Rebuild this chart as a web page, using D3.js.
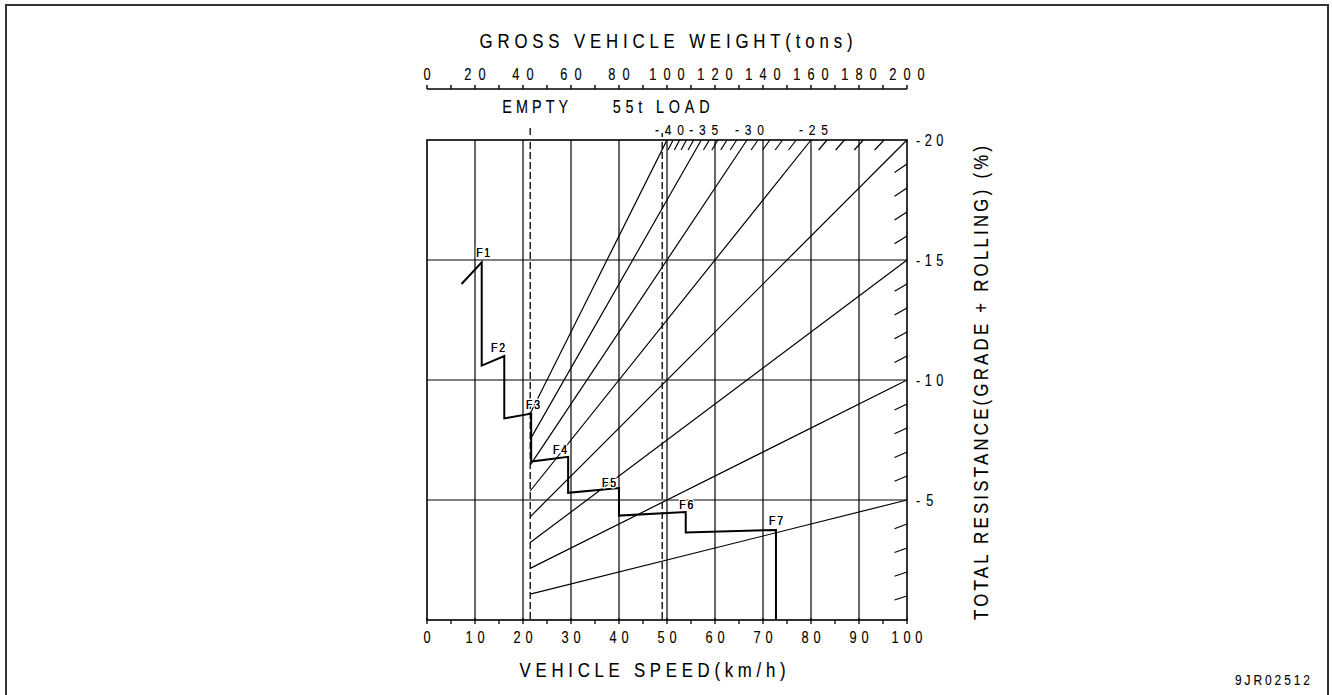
<!DOCTYPE html>
<html>
<head>
<meta charset="utf-8">
<script src="https://cdn.jsdelivr.net/npm/d3@7"></script>
<style>
  html, body { margin: 0; padding: 0; background: #fff; }
  svg { display: block; }
  text { font-family: "Liberation Sans", Arial, sans-serif; fill: #000; stroke: #000; stroke-width: 0.12; }
</style>
</head>
<body>
<svg id="chart" width="1332" height="695"></svg>
<script>
// ---- chart values ----
const speedTicks = [0, 10, 20, 30, 40, 50, 60, 70, 80, 90, 100];          // km/h
const speedMinorTicks = [5, 15, 25, 35, 45, 55, 65, 75, 85, 95];
const weightTicks = [0, 20, 40, 60, 80, 100, 120, 140, 160, 180, 200];    // tons
const weightMinorTicks = [10, 30, 50, 70, 90, 110, 130, 150, 170, 190];
const resistanceTicks = [5, 10, 15, 20];                                  // % (shown negative)
const gradeLines = [5, 10, 15, 20, 25, 30, 35, 40];                       // full resistance lines
const topLineLabels = [40, 35, 30, 25];
const topHatch = [21, 22, 23, 24, 26, 27, 28, 29, 31, 32, 33, 34, 36, 37, 38, 39];
const rightHatch = [1, 2, 3, 4, 6, 7, 8, 9, 11, 12, 13, 14, 16, 17, 18, 19];
const emptyWeight = 43;   // t
const payload = 55;       // t
const loadedWeight = emptyWeight + payload;

// retarder performance by gear: speed (km/h) vs total resistance (%)
const brakeSpeed = [7.2, 11.4, 11.4, 16.1, 16.1, 21.7, 21.7, 29.4, 29.4, 40.0, 40.0, 53.9, 53.9, 72.7, 72.7];
const brakeValue = [14.0, 14.9, 10.6, 11.0, 8.4, 8.6, 6.6, 6.8, 5.3, 5.5, 4.35, 4.5, 3.65, 3.75, 0];
const gearNames = ["F1", "F2", "F3", "F4", "F5", "F6", "F7"];
const gearLabelSpeed = [11.7, 14.8, 22.1, 27.7, 37.9, 54.0, 72.7];
const gearLabelValue = [15.12, 11.17, 8.79, 6.92, 5.54, 4.63, 3.96];

// ---- layout ----
const plot = { left: 427, top: 140, size: 480 };
const svg = d3.select("#chart");

const xSpeed = d3.scaleLinear().domain([0, 100]).range([plot.left, plot.left + plot.size]);
const xWeight = d3.scaleLinear().domain([0, 200]).range([plot.left, plot.left + plot.size]);
const yRes = d3.scaleLinear().domain([0, 20]).range([plot.top + plot.size, plot.top]);
const bottom = yRes(0), right = xSpeed(100);

// narrow, evenly spaced lettering: glyphs squeezed horizontally, spread to a given width
const SX = 0.8;
function letter(parent, x, y, str, size, width, anchor, rotate) {
  const g = parent.append("g")
    .attr("transform", `translate(${x},${y})` + (rotate ? ` rotate(${rotate})` : "") + ` scale(${SX},1)`);
  const t = g.append("text").attr("x", 0).attr("y", 0)
    .attr("font-size", size).attr("text-anchor", anchor || "middle").text(str);
  if (width && str.length > 1) t.attr("textLength", width / SX).attr("lengthAdjust", "spacing");
  return t;
}
// width of a label whose characters sit on a fixed pitch
const pitched = (str, pitch, glyph) => pitch * (str.length - 1) + glyph;

// outer frame of the sheet
svg.append("rect").attr("x", 6).attr("y", 5).attr("width", 1322).attr("height", 705)
  .attr("fill", "none").attr("stroke", "#333").attr("stroke-width", 2);

// grid
const grid = svg.append("g").attr("stroke", "#000").attr("stroke-width", 1.2);
grid.selectAll("line.v").data(speedTicks.slice(1, -1)).join("line")
  .attr("x1", d => xSpeed(d)).attr("x2", d => xSpeed(d))
  .attr("y1", yRes(20)).attr("y2", yRes(0));
grid.selectAll("line.h").data(resistanceTicks.slice(0, -1)).join("line")
  .attr("x1", xSpeed(0)).attr("x2", xSpeed(100))
  .attr("y1", d => yRes(d)).attr("y2", d => yRes(d));

// resistance lines: value = R * W / 200, drawn from the empty weight
const lines = svg.append("g").attr("stroke", "#000").attr("stroke-width", 1.2);
lines.selectAll("line").data(gradeLines).join("line")
  .attr("x1", xWeight(emptyWeight))
  .attr("y1", r => yRes(r * emptyWeight / 200))
  .attr("x2", r => xWeight(Math.min(200, 4000 / r)))
  .attr("y2", r => yRes(Math.min(20, r)));

// short hatch marks where intermediate lines leave the chart (top edge)
const hatchDrop = 10; // px
lines.append("g").selectAll("line").data(topHatch).join("line")
  .attr("x1", r => xWeight(4000 / r)).attr("y1", yRes(20))
  .attr("x2", r => xWeight(4000 / r) - hatchDrop * 20 / r)
  .attr("y2", yRes(20) + hatchDrop);
// right edge
const hatchRun = 12.5; // px
lines.append("g").selectAll("line").data(rightHatch).join("line")
  .attr("x1", right).attr("y1", r => yRes(r))
  .attr("x2", right - hatchRun)
  .attr("y2", r => yRes(r) + hatchRun * (0.3 + 0.02 * r));

// empty / loaded weight markers
const dashes = svg.append("g").attr("stroke", "#000").attr("stroke-width", 1.3);
dashes.append("line")
  .attr("x1", xWeight(emptyWeight)).attr("x2", xWeight(emptyWeight))
  .attr("y1", plot.top - 12).attr("y2", plot.top - 5);
dashes.append("line")
  .attr("x1", xWeight(loadedWeight)).attr("x2", xWeight(loadedWeight))
  .attr("y1", plot.top - 7).attr("y2", plot.top - 3);
dashes.selectAll("line.d").data([emptyWeight, loadedWeight]).join("line")
  .attr("x1", d => xWeight(d)).attr("x2", d => xWeight(d))
  .attr("y1", plot.top + 2).attr("y2", bottom)
  .attr("stroke-dasharray", "7,3");

// plot frame
svg.append("rect").attr("x", plot.left).attr("y", plot.top)
  .attr("width", plot.size).attr("height", plot.size)
  .attr("fill", "none").attr("stroke", "#000").attr("stroke-width", 1.6);

// retarder curve
const curve = d3.line().x(i => xSpeed(brakeSpeed[i])).y(i => yRes(brakeValue[i]));
svg.append("path").attr("d", curve(d3.range(brakeSpeed.length)))
  .attr("fill", "none").attr("stroke", "#000").attr("stroke-width", 2).attr("stroke-linejoin", "miter");

// gear labels with white knock-out behind them
const gearG = svg.append("g");
gearNames.forEach((name, i) => {
  const x = xSpeed(gearLabelSpeed[i]), y = yRes(gearLabelValue[i]);
  letter(gearG, x, y, name, 13, 14)
    .style("stroke", "#fff").style("stroke-width", 3).attr("paint-order", "stroke");
  letter(gearG, x, y, name, 13, 14);
});

// bottom speed axis
const axB = svg.append("g").attr("stroke", "#000").attr("stroke-width", 1.3);
axB.selectAll("line.maj").data(speedTicks).join("line")
  .attr("x1", d => xSpeed(d)).attr("x2", d => xSpeed(d)).attr("y1", bottom - 2).attr("y2", bottom + 4);
axB.selectAll("line.min").data(speedMinorTicks).join("line")
  .attr("x1", d => xSpeed(d)).attr("x2", d => xSpeed(d)).attr("y1", bottom).attr("y2", bottom + 4);
const labB = svg.append("g");
speedTicks.forEach(d => {
  const s = String(d);
  letter(labB, xSpeed(d), bottom + 23, s, 16, pitched(s, 11.7, 7.4));
});
letter(svg, xSpeed(47), bottom + 57, "VEHICLE SPEED(km/h)", 21, 266);

// top weight axis
const topAxisY = 89;
const axT = svg.append("g").attr("stroke", "#000").attr("stroke-width", 1.4);
axT.append("line").attr("x1", xWeight(0)).attr("x2", xWeight(200)).attr("y1", topAxisY).attr("y2", topAxisY);
axT.selectAll("line.t").data(weightTicks.concat(weightMinorTicks)).join("line")
  .attr("x1", d => xWeight(d)).attr("x2", d => xWeight(d)).attr("y1", topAxisY - 4).attr("y2", topAxisY);
const labT = svg.append("g");
weightTicks.forEach(d => {
  const s = String(d);
  letter(labT, xWeight(d), topAxisY - 9, s, 16, pitched(s, 14, 7.4));
});
letter(svg, 666, 48, "GROSS VEHICLE WEIGHT(tons)", 21, 373);
letter(svg, xWeight(emptyWeight) + 5, 113, "EMPTY", 18, 66);
letter(svg, xWeight(loadedWeight) - 1, 113, "55t LOAD", 18, 97);

// labels of the steep resistance lines along the top edge
const labTop = svg.append("g");
topLineLabels.forEach(r => {
  const s = "-" + r;
  letter(labTop, xWeight(4000 / r) + 2.5, plot.top - 5, s, 15, 29);
});

// right resistance axis
const labR = svg.append("g");
resistanceTicks.forEach(r => {
  const s = "-" + r;
  letter(labR, right + 9, yRes(r) + 6, s, 16, pitched(s, 10, 7.4), "start");
});
letter(svg, 988, (plot.top + bottom) / 2 + 3, "TOTAL RESISTANCE(GRADE + ROLLING) (%)", 21, 474, "middle", -90);

// drawing number
letter(svg, 1310, 685, "9JR02512", 15, 75, "end");
</script>
</body>
</html>
